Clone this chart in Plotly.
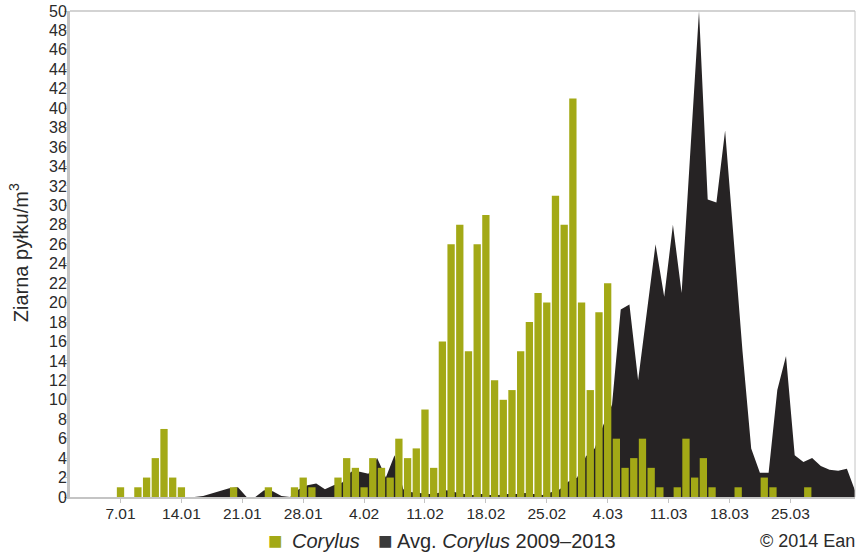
import datetime as dt
import plotly.graph_objects as go

# Daily hazel pollen counts, 1 Jan - 1 Apr 2014 (grains per m3)
season_start = dt.date(2014, 1, 1)

corylus_2014 = [
    0, 0, 0, 0, 0, 0, 1, 0, 1, 2,          # 1.01 - 10.01
    4, 7, 2, 1, 0, 0, 0, 0, 0, 1,          # 11.01 - 20.01
    0, 0, 0, 1, 0, 0, 1, 2, 1, 0,          # 21.01 - 30.01
    0, 2, 4, 3, 1, 4, 3, 2, 6, 4,          # 31.01 - 9.02
    5, 9, 3, 16, 26, 28, 15, 26, 29, 12,   # 10.02 - 19.02
    10, 11, 15, 18, 21, 20, 31, 28, 41, 20,  # 20.02 - 1.03
    11, 19, 22, 6, 3, 4, 6, 3, 1, 0,       # 2.03 - 11.03
    1, 6, 2, 4, 1, 0, 0, 1, 0, 0,          # 12.03 - 21.03
    2, 1, 0, 0, 0, 1, 0, 0, 0, 0,          # 22.03 - 31.03
    0,                                     # 1.04
]

avg_2009_2013 = [
    0, 0, 0, 0, 0, 0, 0, 0, 0, 0,
    0, 0, 0, 0, 0, 0.1, 0.35, 0.6, 0.9, 1.0,
    0, 0, 0.7, 0.6, 0.1, 0, 0.8, 1.2, 1.4, 0.8,
    1.2, 1.5, 2.6, 2.6, 2.4, 4.0, 2.0, 4.3, 0.8, 0.5,
    0.4, 0.3, 0.4, 0.7, 0.5, 0.3, 0.2, 0.3, 0.2, 0.2,
    0.3, 0.3, 0.4, 0.3, 0.2, 0.5, 0.8, 1.6, 2.0, 4.2,
    5.0, 7.4, 9.5, 19.3, 19.8, 12.0, 19.0, 26.0, 20.6, 28.0,
    21.0, 35.0, 50.0, 30.6, 30.3, 37.7, 26.0, 15.0, 5.0, 2.5,
    2.5, 11.0, 14.5, 4.3, 3.6, 4.0, 3.2, 2.8, 2.7, 2.9,
    0.5,
]

tick_dates = ["2014-01-07", "2014-01-14", "2014-01-21", "2014-01-28",
              "2014-02-04", "2014-02-11", "2014-02-18", "2014-02-25",
              "2014-03-04", "2014-03-11", "2014-03-18", "2014-03-25"]
tick_labels = ["7.01", "14.01", "21.01", "28.01", "4.02", "11.02",
               "18.02", "25.02", "4.03", "11.03", "18.03", "25.03"]
y_ticks = list(range(0, 51, 2))

GREEN = "#a3a916"
DARK = "#262324"
AXIS = "#c4c4c4"
TEXT = "#2a2a2a"
FONT = "Liberation Sans, Arial, sans-serif"

days = [season_start + dt.timedelta(days=i) for i in range(len(corylus_2014))]
bar_x = [d.isoformat() for d in days]
# the multi-year average is sampled between the daily bars
avg_x = [(dt.datetime.combine(d, dt.time(12, 0))).isoformat() for d in days]

fig = go.Figure()

fig.add_trace(go.Scatter(
    x=avg_x, y=avg_2009_2013, mode="lines", fill="tozeroy",
    line=dict(color=DARK, width=0), fillcolor=DARK,
    showlegend=False, hoverinfo="skip",
))

fig.add_trace(go.Bar(
    x=bar_x, y=corylus_2014, marker=dict(color=GREEN, line=dict(width=0)),
    xaxis="x2", yaxis="y2", showlegend=False,
))

x_range = ["2014-01-01 04:40", "2014-04-01 10:20"]
LEG_Y = -0.0905


def px(x):
    """Horizontal pixel position to paper fraction of the plot area."""
    return (x - 70) / 785


fig.update_layout(
    width=857, height=554,
    margin=dict(l=70, r=2, t=11, b=57),
    paper_bgcolor="white", plot_bgcolor="white",
    bargap=0.16,
    font=dict(family=FONT, size=15, color=TEXT),
    xaxis=dict(
        type="date", range=x_range,
        tickvals=tick_dates, ticktext=tick_labels,
        ticks="outside", ticklen=4, tickcolor=AXIS, tickwidth=1,
        ticklabelstandoff=-3,
        showline=True, linecolor=AXIS, linewidth=2,
        showgrid=False, zeroline=False,
        tickfont=dict(size=15.5, color=TEXT, family=FONT),
    ),
    yaxis=dict(
        range=[0, 50], tickvals=y_ticks,
        ticks="outside", ticklen=3, tickcolor=AXIS, tickwidth=1,
        ticklabelstandoff=-6,
        showline=True, linecolor=AXIS, linewidth=3,
        showgrid=False, zeroline=False,
        tickfont=dict(size=16, color=TEXT, family=FONT),
    ),
    xaxis2=dict(type="date", overlaying="x", matches="x", visible=False),
    yaxis2=dict(overlaying="y", matches="y", visible=False),
    shapes=[
        dict(type="line", xref="paper", yref="paper", x0=0, x1=1, y0=1, y1=1,
             line=dict(color=AXIS, width=1.5)),
        dict(type="line", xref="paper", yref="paper", x0=1, x1=1, y0=0, y1=1,
             line=dict(color=AXIS, width=1)),
    ],
    annotations=[
        dict(text="Ziarna pyłku/m<sup>3</sup>", textangle=-90, xref="paper", yref="paper",
             x=-0.066, y=0.502, xanchor="center", yanchor="middle", showarrow=False,
             font=dict(size=20, color=TEXT, family=FONT)),
        dict(text="■", xref="paper", yref="paper",
             x=px(275), y=LEG_Y, xanchor="center", yanchor="middle",
             showarrow=False, font=dict(size=24, color=GREEN, family=FONT)),
        dict(text="<i>Corylus</i>", xref="paper", yref="paper",
             x=px(290), y=LEG_Y, xanchor="left", yanchor="middle",
             showarrow=False, font=dict(size=20, color=TEXT, family=FONT)),
        dict(text="■", xref="paper", yref="paper",
             x=px(385), y=LEG_Y, xanchor="center", yanchor="middle",
             showarrow=False, font=dict(size=24, color="#3a3a3a", family=FONT)),
        dict(text="Avg. <i>Corylus</i> 2009–2013", xref="paper", yref="paper",
             x=px(395), y=LEG_Y, xanchor="left", yanchor="middle",
             showarrow=False, font=dict(size=20, color=TEXT, family=FONT)),
        dict(text="© 2014 Ean", xref="paper", yref="paper", x=1.003, y=LEG_Y,
             xanchor="right", yanchor="middle", showarrow=False,
             font=dict(size=18, color=TEXT, family=FONT)),
    ],
)

fig.write_html("out.html")
